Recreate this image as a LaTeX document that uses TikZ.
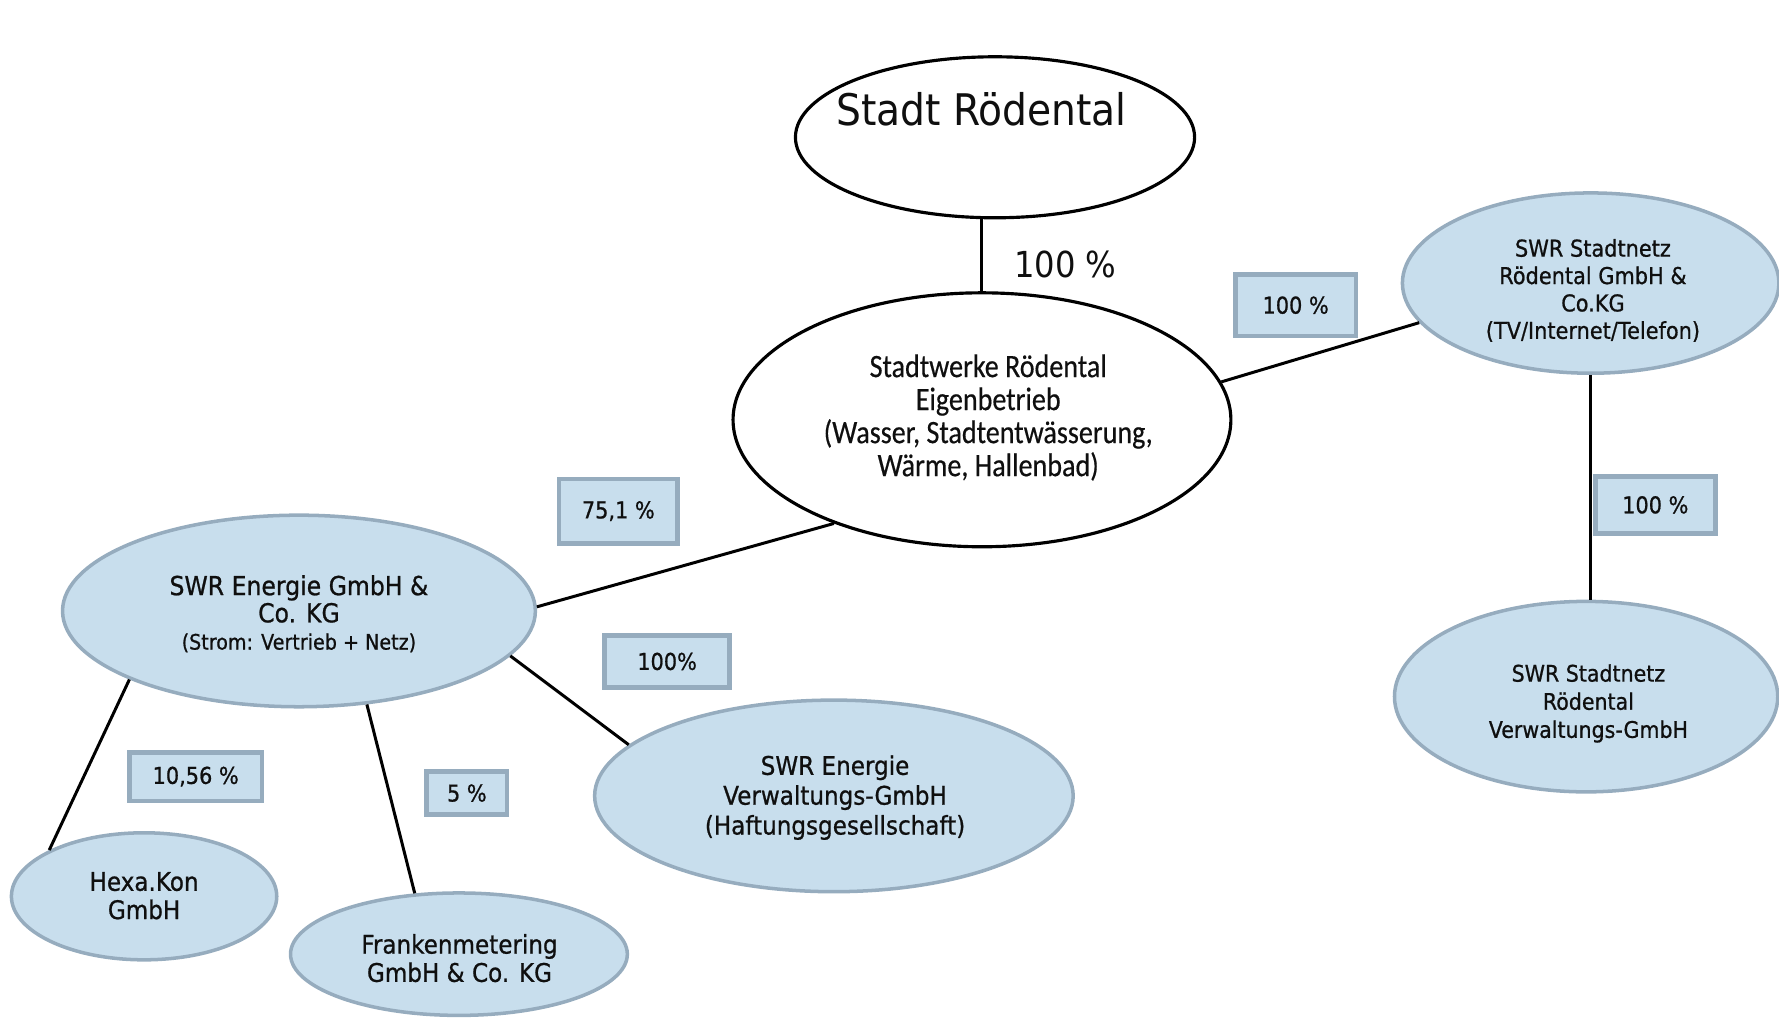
\documentclass[tikz,border=0pt]{standalone}
\usepackage{fontspec}
\usetikzlibrary{shapes.geometric}
\newfontfamily\tahf[FakeStretch=0.9]{DejaVu Sans}
\newfontfamily\tahb[FakeStretch=0.9,FakeBold=0.8]{DejaVu Sans}
\newfontfamily\calf[FakeStretch=0.86,FakeBold=0.4]{Carlito}
\definecolor{bfill}{RGB}{200,222,237}
\definecolor{bline}{RGB}{150,172,190}
\definecolor{ink}{RGB}{15,15,15}
\begin{document}
\begin{tikzpicture}[x=0.011346cm, y=-0.011346cm,
  wl/.style={ellipse, draw=black, line width=0.9pt, fill=white, inner sep=0pt},
  bl/.style={ellipse, draw=bline, line width=1pt, fill=bfill, inner sep=0pt},
  pct/.style={rectangle, draw=bline, line width=1.3pt, fill=bfill, inner sep=0pt,
    font=\tahb\fontsize{6.6}{8}\selectfont, text=ink},
  tx/.style={align=center, inner sep=0pt, text=ink},
  conn/.style={line width=0.85pt, draw=black}]
\useasboundingbox (0,0) rectangle (1568,899);

% ellipses
\node[wl, minimum width=3.994cm, minimum height=1.611cm] (stadt) at (877,121) {};
\node[wl, minimum width=4.981cm, minimum height=2.541cm] (sw) at (865.5,370) {};
\node[bl, minimum width=3.767cm, minimum height=1.804cm] (snt) at (1402,249.5) {};
\node[bl, minimum width=3.835cm, minimum height=1.906cm] (snb) at (1398,614) {};
\node[bl, minimum width=4.731cm, minimum height=1.917cm] (swre) at (263.5,538.5) {};
\node[bl, minimum width=4.788cm, minimum height=1.917cm] (verw) at (735,701.5) {};
\node[bl, minimum width=2.655cm, minimum height=1.271cm] (hexa) at (127,790) {};
\node[bl, minimum width=3.370cm, minimum height=1.225cm] (frank) at (404.5,841) {};

% texts in ellipses
\node[tx, font=\tahf\fontsize{12.4}{14}\selectfont] (stadt-t) at (865,96) {Stadt Rödental};
\node[tx, font=\calf\fontsize{9.3}{9.4}\selectfont] (sw-t) at (871,368)
  {Stadtwerke Rödental\\Eigenbetrieb\\(Wasser, Stadtentwässerung,\\Wärme, Hallenbad)};
\node[tx, font=\tahb\fontsize{6.6}{7.8}\selectfont] (snt-t) at (1404,256)
  {SWR Stadtnetz\\Rödental GmbH \&\\Co.KG\\(TV/Internet/Telefon)};
\node[tx, font=\tahb\fontsize{6.5}{8}\selectfont] (snb-t) at (1400,620)
  {SWR Stadtnetz\\Rödental\\Verwaltungs-GmbH};
\node[tx, font=\tahb\fontsize{7.45}{7.75}\selectfont] (swre-t) at (263.5,541)
  {SWR Energie GmbH \&\\Co. KG\\{\fontsize{6.05}{7.75}\selectfont (Strom: Vertrieb + Netz)}};
\node[tx, font=\tahb\fontsize{7.3}{8.5}\selectfont] (verw-t) at (736,703)
  {SWR Energie\\Verwaltungs-GmbH\\(Haftungsgesellschaft)};
\node[tx, font=\tahb\fontsize{7.3}{8.05}\selectfont] (hexa-t) at (127,789.5)
  {Hexa.Kon\\GmbH};
\node[tx, font=\tahb\fontsize{7.3}{8.05}\selectfont] (frank-t) at (405,844.5)
  {Frankenmetering\\GmbH \& Co. KG};

% connectors
\draw[conn] (sw.north) -- (sw.north |- stadt.south);
\draw[conn] (sw.9.35) -- (snt.193.5);
\draw[conn] (snt.south) -- (snt.south |- snb.north);
\draw[conn] (sw.215.95) -- (swre.1);
\draw[conn] (swre.348.6) -- (verw.166.9);
\draw[conn] (swre.202.6) -- (hexa.154);
\draw[conn] (swre.306.2) -- (frank.126);

% percentages
\node[tx, font=\tahf\fontsize{10.2}{12}\selectfont] (p0) at (939,233) {100 \%};
\node[pct, minimum width=1.203cm, minimum height=0.613cm] (p1) at (1142,269) {100 \%};
\node[pct, minimum width=1.203cm, minimum height=0.567cm] (p2) at (1459,445) {100 \%};
\node[pct, minimum width=1.186cm, minimum height=0.647cm] (p3) at (545,450.5) {75,1 \%};
\node[pct, minimum width=1.248cm, minimum height=0.522cm] (p4) at (588,583) {100\%};
\node[pct, minimum width=1.327cm, minimum height=0.488cm] (p5) at (172.5,684.5) {10,56 \%};
\node[pct, minimum width=0.806cm, minimum height=0.431cm] (p6) at (411.5,699) {5 \%};
\end{tikzpicture}
\end{document}
